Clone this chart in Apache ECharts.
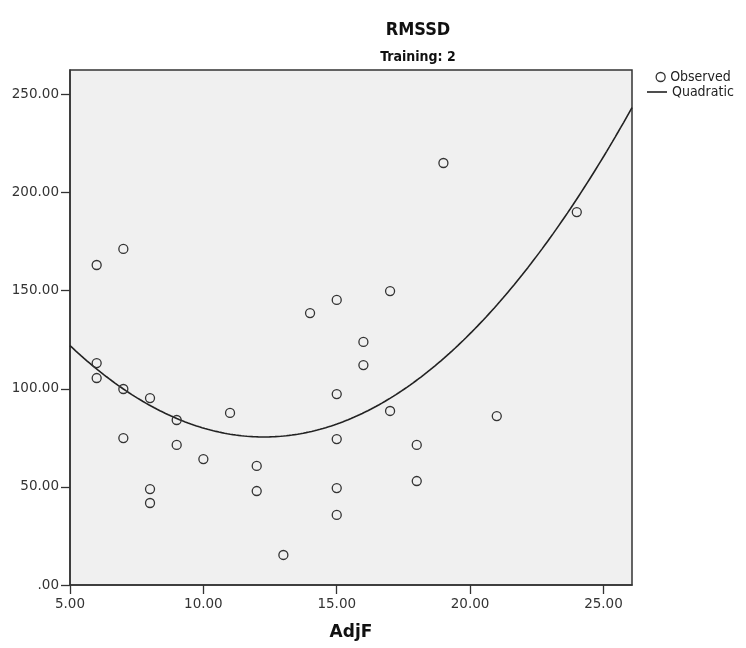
<!DOCTYPE html>
<html>
<head>
<meta charset="utf-8">
<script src="https://cdn.jsdelivr.net/npm/echarts@6/dist/echarts.min.js"></script>
<style>
  html, body { margin: 0; padding: 0; background: #ffffff; }
  #chart { width: 746px; height: 648px; }
</style>
</head>
<body>
<div id="chart"></div>
<script>
// Observed RMSSD values against AdjF (Training group 2)
const adjF  = [6, 7, 6, 6, 7, 8, 7, 9, 9, 8, 8, 10, 11, 12, 12, 13, 14, 15, 15, 15, 15, 15, 16, 16, 17, 17, 18, 18, 19, 21, 24];
const rmssd = [163.1, 171.3, 113.1, 105.5, 99.9, 95.3, 74.9, 84.1, 71.4, 48.9, 41.8, 64.2, 87.7, 60.7, 47.9, 15.3, 138.6, 145.3, 97.3, 74.4, 49.4, 35.7, 123.9, 112.1, 149.8, 88.7, 71.4, 53.0, 215.1, 86.1, 190.1];

// Axis ticks
const xTicks = [5, 10, 15, 20, 25];
const yTicks = [0, 50, 100, 150, 200, 250];
const xRange = [5, 26.07];
const yRange = [0, 262.5];

// Quadratic least-squares fit: rmssd = b0 + b1*x + b2*x^2
function quadFit(xs, ys) {
  const n = xs.length;
  let s = [0, 0, 0, 0, 0], t = [0, 0, 0];
  for (let i = 0; i < n; i++) {
    const x = xs[i], y = ys[i];
    let p = 1;
    for (let k = 0; k < 5; k++) { s[k] += p; if (k < 3) t[k] += p * y; p *= x; }
  }
  const A = [[s[0], s[1], s[2], t[0]], [s[1], s[2], s[3], t[1]], [s[2], s[3], s[4], t[2]]];
  for (let c = 0; c < 3; c++) {
    for (let r = c + 1; r < 3; r++) {
      const f = A[r][c] / A[c][c];
      for (let k = c; k < 4; k++) A[r][k] -= f * A[c][k];
    }
  }
  const b = [0, 0, 0];
  for (let r = 2; r >= 0; r--) {
    let v = A[r][3];
    for (let k = r + 1; k < 3; k++) v -= A[r][k] * b[k];
    b[r] = v / A[r][r];
  }
  return b;
}
const coef = quadFit(adjF, rmssd);
const fitLine = [];
const steps = 200;
for (let i = 0; i <= steps; i++) {
  const x = xRange[0] + (xRange[1] - xRange[0]) * i / steps;
  fitLine.push([x, coef[0] + coef[1] * x + coef[2] * x * x]);
}

const fmt = v => { const s = v.toFixed(2); return s.startsWith('0.') ? s.slice(1) : s; };
const FONT = 'DejaVu Sans';
const FONT_C = 'DejaVu Sans Condensed';

const chart = echarts.init(document.getElementById('chart'), null, { renderer: 'canvas' });
chart.setOption({
  animation: false,
  backgroundColor: '#ffffff',
  title: [
    { text: 'RMSSD', left: 418, top: 21, padding: 0, textAlign: 'center',
      textStyle: { fontFamily: FONT_C, fontWeight: 'bold', fontSize: 18, color: '#111' } },
    { text: 'Training: 2', left: 418, top: 50, padding: 0, textAlign: 'center',
      textStyle: { fontFamily: FONT_C, fontWeight: 'bold', fontSize: 14, color: '#111' } }
  ],
  legend: [
    {
      orient: 'vertical', left: 655.5, top: 70, padding: 0,
      itemWidth: 9, itemHeight: 9,
      textStyle: { fontFamily: FONT_C, fontSize: 14, color: '#222' },
      data: [{ name: 'Observed', icon: 'circle',
        itemStyle: { color: 'rgba(0,0,0,0)', borderColor: '#333', borderWidth: 1.3 } }]
    },
    {
      orient: 'vertical', left: 647, top: 85, padding: 0,
      itemWidth: 20, itemHeight: 1.6,
      textStyle: { fontFamily: FONT_C, fontSize: 14, color: '#222' },
      data: [{ name: 'Quadratic', icon: 'rect', itemStyle: { color: '#222' } }]
    }
  ],
  grid: {
    left: 70, right: 114, top: 70, bottom: 63,
    show: true, backgroundColor: '#f0f0f0', borderColor: '#333', borderWidth: 1.5
  },
  xAxis: {
    type: 'value', min: xRange[0], max: xRange[1], interval: 5,
    name: 'AdjF', nameLocation: 'middle', nameGap: 39,
    nameTextStyle: { fontFamily: FONT, fontWeight: 'bold', fontSize: 17, color: '#111' },
    axisLine: { show: true, lineStyle: { color: '#333', width: 1.5 } },
    axisTick: { show: true, length: 9, customValues: xTicks, lineStyle: { color: '#333', width: 1.3 } },
    axisLabel: { customValues: xTicks, margin: 12, formatter: fmt,
      fontFamily: FONT, fontSize: 13.5, color: '#333' },
    splitLine: { show: false }
  },
  yAxis: {
    type: 'value', min: yRange[0], max: yRange[1], interval: 50,
    axisLine: { show: true, lineStyle: { color: '#333', width: 1.5 } },
    axisTick: { show: true, length: 9, customValues: yTicks, lineStyle: { color: '#333', width: 1.3 } },
    axisLabel: { customValues: yTicks, margin: 11, formatter: fmt,
      fontFamily: FONT, fontSize: 13.5, color: '#333' },
    splitLine: { show: false }
  },
  series: [
    {
      name: 'Observed', type: 'scatter', symbol: 'circle', symbolSize: 9,
      itemStyle: { color: 'rgba(0,0,0,0)', borderColor: '#333', borderWidth: 1.3, opacity: 1 },
      data: adjF.map((x, i) => [x, rmssd[i]]),
      z: 3
    },
    {
      name: 'Quadratic', type: 'line', symbol: 'none', smooth: false,
      lineStyle: { color: '#222', width: 1.6 },
      itemStyle: { color: '#222' },
      data: fitLine,
      z: 2
    }
  ]
});
</script>
</body>
</html>
